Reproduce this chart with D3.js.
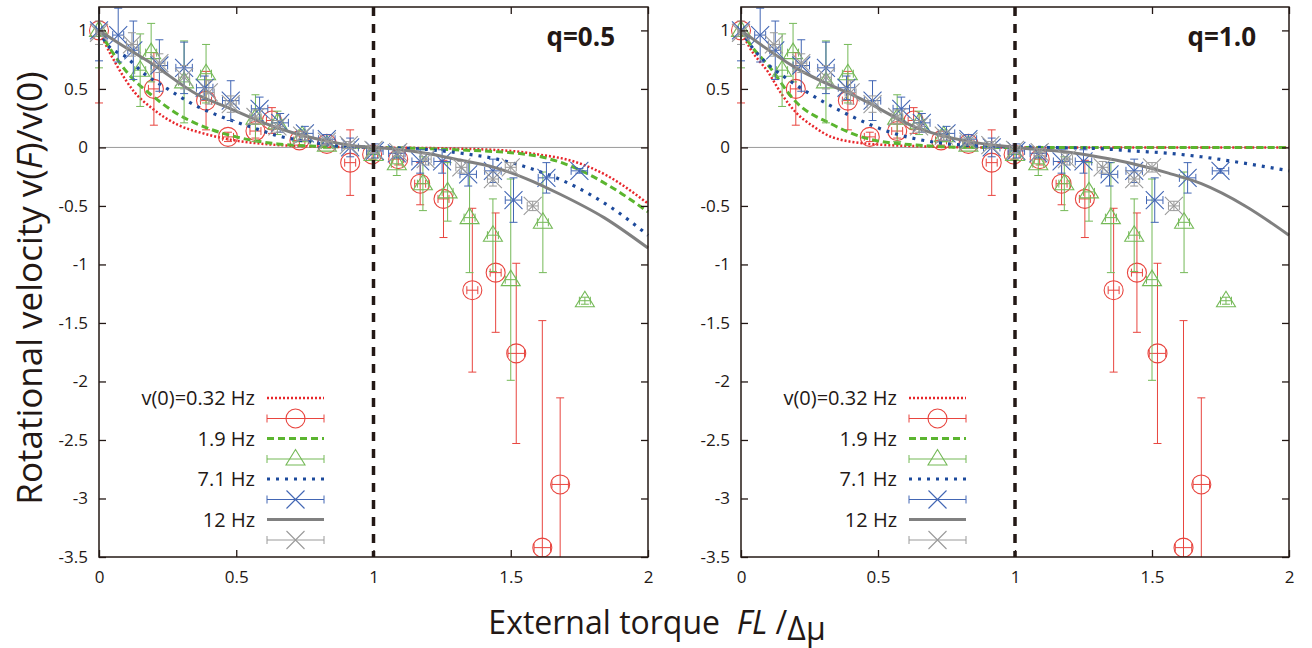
<!DOCTYPE html>
<html>
<head>
<meta charset="utf-8">
<script src="https://cdn.jsdelivr.net/npm/d3@7"></script>
<style>
body { margin: 0; background: #fff; }
svg { display: block; }
text { font-family: "Open Sans", "Noto Sans", sans-serif; fill: #231815; }
</style>
</head>
<body>
<div id="chart"></div>
<script>
// panel labels and ticks
var panelNames = ["q=0.5", "q=1.0"];
var xTicks = [0, 0.5, 1, 1.5, 2];
var yTicks = [-3.5, -3, -2.5, -2, -1.5, -1, -0.5, 0, 0.5, 1];
var legendNames = ["v(0)=0.32 Hz", "1.9 Hz", "7.1 Hz", "12 Hz"];

// theory curves [x, y], q=0.5
var red05 = [[0,1],[0.02,0.9],[0.07,0.68],[0.13,0.47],[0.19,0.34],[0.29,0.19],[0.38,0.12],[0.47,0.07],[0.6,0.03],[0.75,0.01],[1,0],[1.3,-0.01],[1.5,-0.03],[1.6,-0.06],[1.73,-0.12],[1.85,-0.24],[2,-0.48]];
var green05 = [[0,1],[0.05,0.81],[0.11,0.62],[0.19,0.45],[0.29,0.28],[0.39,0.17],[0.5,0.09],[0.65,0.03],[0.8,0.01],[1,0],[1.3,-0.02],[1.56,-0.06],[1.73,-0.17],[1.86,-0.33],[2,-0.55]];
var blue05 = [[0,1],[0.03,0.88],[0.1,0.77],[0.16,0.64],[0.25,0.5],[0.35,0.36],[0.46,0.25],[0.56,0.17],[0.65,0.1],[0.76,0.05],[0.88,0.01],[1,0],[1.15,-0.01],[1.32,-0.05],[1.45,-0.1],[1.56,-0.17],[1.74,-0.34],[1.87,-0.52],[2,-0.75]];
var gray05 = [[0,1],[0.1,0.85],[0.19,0.72],[0.36,0.45],[0.48,0.33],[0.6,0.21],[0.7,0.13],[0.82,0.06],[0.94,0.01],[1,0],[1.1,-0.02],[1.19,-0.05],[1.3,-0.1],[1.44,-0.17],[1.56,-0.27],[1.68,-0.4],[1.84,-0.6],[2,-0.86]];

// theory curves [x, y], q=1.0
var red10 = [[0,1],[0.03,0.86],[0.1,0.64],[0.15,0.45],[0.2,0.3],[0.27,0.17],[0.33,0.09],[0.47,0.03],[0.65,0.01],[0.9,0],[1.2,0],[2,0]];
var green10 = [[0,1],[0.04,0.86],[0.1,0.7],[0.2,0.39],[0.33,0.2],[0.47,0.07],[0.64,0.02],[0.85,0],[1.2,0],[2,0]];
var blue10 = [[0,1],[0.03,0.89],[0.08,0.75],[0.16,0.6],[0.25,0.46],[0.4,0.27],[0.545,0.13],[0.72,0.04],[0.9,0.01],[1.1,0],[1.3,-0.01],[1.43,-0.03],[1.56,-0.05],[1.68,-0.08],[1.85,-0.14],[2,-0.2]];
var gray10 = [[0,1],[0.2,0.68],[0.45,0.4],[0.64,0.17],[0.81,0.06],[1,0],[1.19,-0.04],[1.3,-0.08],[1.43,-0.14],[1.56,-0.22],[1.68,-0.31],[1.84,-0.5],[2,-0.75]];

// measured points [x, y, xerr, yerr]
var redPts = [[0,1,0.01,0.62],[0.2,0.5,0.02,0.31],[0.39,0.4,0.02,0.25],[0.47,0.09,0.02,0.04],[0.57,0.14,0.02,0.06],[0.63,0.23,0.02,0.11],[0.73,0.06,0.02,0.04],[0.83,0.03,0.02,0.03],[0.915,-0.13,0.02,0.28],[0.995,-0.06,0.02,0.04],[1.09,-0.1,0.02,0.05],[1.17,-0.31,0.02,0.18],[1.255,-0.44,0.02,0.33],[1.36,-1.22,0.02,0.7],[1.445,-1.07,0.02,0.51],[1.52,-1.76,0.03,0.77],[1.615,-3.42,0.03,1.94],[1.68,-2.88,0.03,0.74]];
var greenPts = [[0,1,0.01,0.32],[0.15,0.66,0.02,0.31],[0.19,0.81,0.02,0.25],[0.31,0.56,0.02,0.35],[0.39,0.63,0.02,0.25],[0.57,0.25,0.02,0.2],[0.65,0.21,0.02,0.1],[0.74,0.1,0.02,0.05],[0.83,0.02,0.02,0.03],[1,-0.06,0.02,0.04],[1.085,-0.14,0.02,0.1],[1.18,-0.31,0.02,0.23],[1.27,-0.38,0.02,0.25],[1.35,-0.6,0.02,0.47],[1.435,-0.75,0.02,0.31],[1.5,-1.13,0.02,0.86],[1.617,-0.64,0.02,0.43],[1.77,-1.31,0.02,0.03]];
var bluePts = [[0,1,0.01,0.26],[0.07,0.96,0.02,0.23],[0.125,0.83,0.02,0.25],[0.22,0.7,0.03,0.22],[0.31,0.68,0.03,0.22],[0.385,0.51,0.03,0.1],[0.48,0.4,0.03,0.17],[0.585,0.33,0.03,0.1],[0.66,0.21,0.03,0.08],[0.75,0.12,0.03,0.06],[0.83,0.07,0.03,0.04],[0.915,0,0.03,0.08],[1.005,-0.03,0.03,0.06],[1.085,-0.05,0.03,0.04],[1.17,-0.12,0.03,0.1],[1.25,-0.12,0.03,0.1],[1.345,-0.23,0.03,0.1],[1.435,-0.2,0.03,0.1],[1.51,-0.45,0.03,0.19],[1.63,-0.26,0.03,0.13],[1.75,-0.2,0.03,0.02]];
var grayPts = [[0,0.98,0.01,0.1],[0.12,0.88,0.02,0.1],[0.22,0.72,0.02,0.08],[0.31,0.6,0.02,0.1],[0.4,0.47,0.02,0.1],[0.48,0.37,0.02,0.07],[0.57,0.26,0.02,0.06],[0.65,0.18,0.02,0.05],[0.74,0.1,0.02,0.04],[0.83,0.05,0.02,0.03],[0.91,0.02,0.02,0.03],[1,-0.02,0.02,0.03],[1.09,-0.04,0.02,0.03],[1.19,-0.1,0.02,0.05],[1.32,-0.17,0.02,0.05],[1.435,-0.27,0.02,0.06],[1.5,-0.17,0.02,0.04],[1.58,-0.5,0.02,0.04]];

var curves = [[red05, green05, blue05, gray05], [red10, green10, blue10, gray10]];
var points = [redPts, greenPts, bluePts, grayPts];

// styles per series
var lineCol = ["#e8262b", "#5bb52f", "#1d4a9c", "#808080"];
var lineDash = ["2,2", "7,4", "3,6", null];
var lineW = [2.5, 3, 3.2, 3];
var ptCol = ["#e8453f", "#74b957", "#4266b4", "#9a9a9a"];
var ptShape = ["circle", "triangle", "cross", "cross"];

var W = 1312, H = 648;
var svg = d3.select("#chart").append("svg").attr("width", W).attr("height", H);

var boxes = [{x0: 99, x1: 648}, {x0: 741, x1: 1289}];
var yTop = 7, yBot = 557;

function marker(g, shape, cx, cy, col) {
    if (shape == "circle") {
        g.append("circle").attr("cx", cx).attr("cy", cy).attr("r", 9.5)
            .attr("fill", "none").attr("stroke", col).attr("stroke-width", 1.1);
    } else if (shape == "triangle") {
        g.append("path").attr("d", `M${cx - 9.5},${cy + 6}L${cx + 9.5},${cy + 6}L${cx},${cy - 9.5}Z`)
            .attr("fill", "none").attr("stroke", col).attr("stroke-width", 1.1);
    } else {
        g.append("path").attr("d", `M${cx - 9},${cy - 9}L${cx + 9},${cy + 9}M${cx - 9},${cy + 9}L${cx + 9},${cy - 9}`)
            .attr("fill", "none").attr("stroke", col).attr("stroke-width", 1.1);
    }
}

boxes.forEach(function(b, pi) {
    var x = d3.scaleLinear().domain([0, 2]).range([b.x0, b.x1]);
    var y = d3.scaleLinear().domain([-3.5, 1.2]).range([yBot, yTop]);
    var g = svg.append("g");

    g.append("clipPath").attr("id", "clip" + pi).append("rect")
        .attr("x", b.x0 - 12).attr("y", yTop).attr("width", b.x1 - b.x0 + 24).attr("height", yBot - yTop);
    var plot = g.append("g").attr("clip-path", `url(#clip${pi})`);

    // zero line
    plot.append("line").attr("x1", b.x0).attr("x2", b.x1).attr("y1", y(0)).attr("y2", y(0))
        .attr("stroke", "#9a9a9a").attr("stroke-width", 1);

    var line = d3.line().x(d => x(d[0])).y(d => y(d[1])).curve(d3.curveMonotoneX);

    for (var s = 0; s < 4; s++) {
        plot.append("path").datum(curves[pi][s]).attr("d", line)
            .attr("fill", "none").attr("stroke", lineCol[s]).attr("stroke-width", lineW[s])
            .attr("stroke-dasharray", lineDash[s]);

        var pg = plot.append("g").attr("stroke", ptCol[s]).attr("stroke-width", 1);
        points[s].forEach(function(p) {
            var cx = x(p[0]), cy = y(p[1]);
            var ya = y(p[1] + p[3]), yb = y(p[1] - p[3]);
            var xa = x(p[0] - p[2]), xb = x(p[0] + p[2]);
            pg.append("line").attr("x1", cx).attr("x2", cx).attr("y1", ya).attr("y2", yb);
            pg.append("line").attr("x1", cx - 4).attr("x2", cx + 4).attr("y1", ya).attr("y2", ya);
            pg.append("line").attr("x1", cx - 4).attr("x2", cx + 4).attr("y1", yb).attr("y2", yb);
            pg.append("line").attr("x1", xa).attr("x2", xb).attr("y1", cy).attr("y2", cy);
            pg.append("line").attr("x1", xa).attr("x2", xa).attr("y1", cy - 4).attr("y2", cy + 4);
            pg.append("line").attr("x1", xb).attr("x2", xb).attr("y1", cy - 4).attr("y2", cy + 4);
            marker(pg, ptShape[s], cx, cy, ptCol[s]);
        });
    }

    // dashed line at FL/dmu = 1
    g.append("line").attr("x1", x(1)).attr("x2", x(1)).attr("y1", yTop).attr("y2", yBot)
        .attr("stroke", "#231815").attr("stroke-width", 3.5).attr("stroke-dasharray", "9,8");

    // axes with inward ticks
    var fmt = d => String(d);
    g.append("g").attr("transform", `translate(0,${yBot})`)
        .call(d3.axisBottom(x).tickValues(xTicks).tickSize(-7).tickPadding(14).tickFormat(fmt));
    g.append("g").attr("transform", `translate(${b.x0},0)`)
        .call(d3.axisLeft(y).tickValues(yTicks).tickSize(-7).tickPadding(11).tickFormat(fmt));
    g.append("g").attr("transform", `translate(0,${yTop})`)
        .call(d3.axisTop(x).tickValues(xTicks).tickSize(-7).tickFormat(""));
    g.append("g").attr("transform", `translate(${b.x1},0)`)
        .call(d3.axisRight(y).tickValues(yTicks).tickSize(-7).tickFormat(""));
    g.selectAll(".domain").remove();
    g.selectAll(".tick line").attr("stroke", "#231815").attr("stroke-width", 1.3);
    g.selectAll(".tick text").attr("font-size", 17).attr("font-family", "Open Sans").attr("fill", "#231815");

    g.append("rect").attr("x", b.x0).attr("y", yTop).attr("width", b.x1 - b.x0).attr("height", yBot - yTop)
        .attr("fill", "none").attr("stroke", "#231815").attr("stroke-width", 1.5);

    // panel title
    g.append("text").attr("x", b.x1 - 33).attr("y", 46).attr("text-anchor", "end")
        .attr("font-family", "Lato").attr("font-weight", "bold").attr("font-size", 26)
        .text(panelNames[pi]);

    // legend
    var lx = b.x0 + 156, sx0 = b.x0 + 168, sx1 = b.x0 + 225;
    for (var k = 0; k < 4; k++) {
        var ly = 398 + k * 40.5;
        g.append("text").attr("x", lx).attr("y", ly).attr("dy", "0.36em").attr("text-anchor", "end")
            .attr("font-size", 20).text(legendNames[k]);
        g.append("line").attr("x1", sx0).attr("x2", sx1).attr("y1", ly).attr("y2", ly)
            .attr("stroke", lineCol[k]).attr("stroke-width", lineW[k]).attr("stroke-dasharray", lineDash[k]);
        var ey = ly + 20.5, mx = (sx0 + sx1) / 2;
        var lg = g.append("g").attr("stroke", ptCol[k]).attr("stroke-width", 1);
        lg.append("line").attr("x1", sx0).attr("x2", sx1).attr("y1", ey).attr("y2", ey);
        lg.append("line").attr("x1", sx0).attr("x2", sx0).attr("y1", ey - 4).attr("y2", ey + 4);
        lg.append("line").attr("x1", sx1).attr("x2", sx1).attr("y1", ey - 4).attr("y2", ey + 4);
        marker(lg, ptShape[k], mx, ey, ptCol[k]);
    }
});

// axis titles
var yl = svg.append("text").attr("transform", "translate(42,288) rotate(-90)")
    .attr("text-anchor", "middle").attr("font-size", 35);
yl.append("tspan").text("Rotational velocity v(");
yl.append("tspan").attr("font-style", "italic").text("F");
yl.append("tspan").text(")/v(0)");

var xl = svg.append("text").attr("x", 657).attr("y", 634).attr("text-anchor", "middle")
    .attr("font-family", "Lato").attr("font-size", 32);
xl.append("tspan").text("External torque\u00a0\u00a0");
xl.append("tspan").attr("font-style", "italic").text("FL");
xl.append("tspan").text(" /");
xl.append("tspan").attr("dy", 6).text("\u0394\u03bc");
</script>
</body>
</html>
